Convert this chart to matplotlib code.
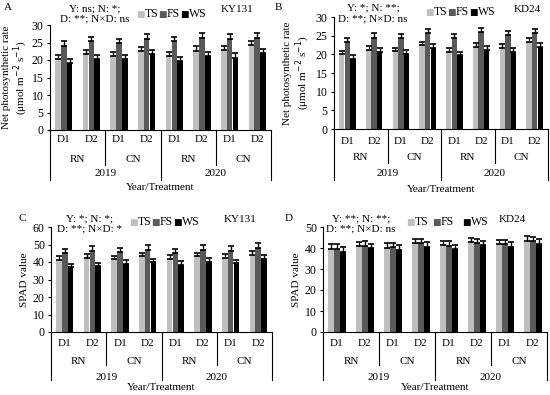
import matplotlib
matplotlib.use("Agg")
import matplotlib.pyplot as plt
import numpy as np
from matplotlib.transforms import blended_transform_factory

plt.rcParams["font.family"] = ["Liberation Serif", "DejaVu Serif"]
plt.rcParams["font.size"] = 8

# ── data ─────────────────────────────────────────────────────────────────────
d_labels = ["D1", "D2"] * 4
n_labels = ["RN", "CN", "RN", "CN"]
years = ["2019", "2020"]
series = ["TS", "FS", "WS"]
colors = ["#bfbfbf", "#595959", "#000000"]

pn_ky131 = {
    "TS": [20.2, 21.8, 21.2, 22.6, 21.2, 22.7, 22.9, 24.3],
    "FS": [24.1, 25.3, 24.8, 26.0, 25.3, 26.4, 26.1, 26.3],
    "WS": [19.2, 20.3, 20.2, 21.6, 19.8, 21.1, 20.7, 21.9],
}
pn_ky131_err = [1.2, 1.3, 1.2]

pn_kd24 = {
    "TS": [20.0, 21.1, 20.8, 22.4, 20.7, 22.0, 21.7, 23.4],
    "FS": [23.2, 24.5, 24.4, 25.7, 24.4, 26.0, 25.1, 25.7],
    "WS": [18.7, 20.7, 20.2, 21.8, 19.7, 21.1, 20.7, 22.0],
}
pn_kd24_err = [1.0, 1.1, 1.0]

spad_ky131 = {
    "TS": [41.0, 42.3, 41.5, 43.2, 41.7, 43.2, 42.3, 44.2],
    "FS": [45.1, 46.3, 45.5, 47.0, 45.1, 47.0, 46.3, 48.0],
    "WS": [37.0, 37.7, 38.9, 40.0, 38.5, 40.2, 39.2, 41.9],
}
spad_ky131_err = [2.2, 2.6, 2.0]

spad_kd24 = {
    "TS": [39.7, 41.0, 40.2, 42.2, 41.3, 42.9, 41.9, 43.5],
    "FS": [39.7, 41.1, 40.6, 42.2, 41.1, 42.5, 41.9, 43.2],
    "WS": [38.1, 39.8, 39.2, 40.5, 39.4, 41.3, 40.5, 41.9],
}
spad_kd24_err = [2.0, 2.0, 2.2]

FIG_W, FIG_H = 550, 395


def px_box(left, right, top, bottom):
    return [left / FIG_W, 1 - bottom / FIG_H, (right - left) / FIG_W, (bottom - top) / FIG_H]


def fig_xy(x, y):
    return x / FIG_W, 1 - y / FIG_H


# ── one panel ────────────────────────────────────────────────────────────────

def draw_panel(fig, box, data, errs, ymax, ystep, ylabel, offs, labelpad=3):
    ax = fig.add_axes(px_box(*box))
    x = np.arange(8)
    width, gap = 0.2, 0.21
    for i, s in enumerate(series):
        vals = np.array(data[s])
        err = np.full(8, errs[i])
        ax.bar(x + (i - 1) * gap, vals, width, color=colors[i], zorder=2)
        ax.errorbar(x + (i - 1) * gap, vals, yerr=[np.zeros(8), err], fmt="none",
                    ecolor="black", elinewidth=1.0, capsize=2.3, capthick=1.2, zorder=3)
    ax.set_xlim(-0.5, 7.5)
    ax.set_ylim(0, ymax)
    ax.set_yticks(np.arange(0, ymax + 0.1, ystep))
    ax.set_xticks([])
    for side in ["top", "right"]:
        ax.spines[side].set_visible(False)
    ax.spines["left"].set_linewidth(0.8)
    ax.spines["bottom"].set_linewidth(0.8)
    ax.tick_params(axis="y", length=2.5, width=0.8, pad=2, labelsize=8.5)
    ax.set_ylabel(ylabel, labelpad=labelpad, linespacing=1.1)

    # multi-level category axis
    h_px = box[3] - box[2]
    tr = blended_transform_factory(ax.transData, ax.transAxes)
    d_y, n_y, yr_y, n_line, yr_line, title_y = [-o / h_px for o in offs]
    for i, lab in enumerate(d_labels):
        ax.text(i, d_y, lab, transform=tr, ha="center", va="center")
    for i, lab in enumerate(n_labels):
        ax.text(2 * i + 0.5, n_y, lab, transform=tr, ha="center", va="center")
    for i, lab in enumerate(years):
        ax.text(4 * i + 1.5, yr_y, lab, transform=tr, ha="center", va="center")
    for xs in [-0.5, 3.5, 7.5]:
        ax.plot([xs, xs], [0, yr_line], transform=tr, color="black", lw=0.8, clip_on=False)
    for xs in [1.5, 5.5]:
        ax.plot([xs, xs], [0, n_line], transform=tr, color="black", lw=0.8, clip_on=False)
    ax.text(3.5, title_y, "Year/Treatment", transform=tr, ha="center", va="center")
    return ax


def draw_header(fig, letter, letter_xy, stats, stats_x, stats_y, legend_x, legend_y, cultivar, cult_xy):
    fig.text(*fig_xy(*letter_xy), letter, ha="center", va="center")
    fig.text(*fig_xy(stats_x, stats_y[0]), stats[0], ha="center", va="center")
    fig.text(*fig_xy(stats_x, stats_y[1]), stats[1], ha="center", va="center")
    for i, s in enumerate(series):
        lx = legend_x[i]
        fig.text(*fig_xy(lx, legend_y + 0.5), "\u25A0", color=colors[i], ha="center", va="center",
                 family="DejaVu Sans", fontsize=6.5)
        fig.text(*fig_xy(lx + 5, legend_y), s, ha="left", va="center", fontsize=8.5)
    fig.text(*fig_xy(*cult_xy), cultivar, ha="center", va="center")


fig = plt.figure(figsize=(FIG_W / 100, FIG_H / 100), dpi=100)

pn_label = "Net photosynthetic rate\n(\u03bcmol m$^{-2}$ s$^{-1}$)"

draw_panel(fig, (50, 271, 25, 130), pn_ky131, pn_ky131_err, 30, 5, pn_label,
           (10, 29, 44, 35, 50, 58), labelpad=1)
draw_header(fig, "A", (8, 8), ["Y: ns; N: *;", "D: **; N\u00d7D: ns"], 95, (9, 19),
            [140, 162, 184], 14, "KY131", (237, 10))

draw_panel(fig, (334, 548, 17, 129), pn_kd24, pn_kd24_err, 30, 5, pn_label,
           (13, 28, 45, 34, 51, 60))
draw_header(fig, "B", (278, 8), ["Y: *; N: **;", "D: **; N\u00d7D: ns"], 373, (8, 19),
            [429, 451, 473], 12, "KD24", (527, 10))

draw_panel(fig, (51, 272, 227, 332), spad_ky131, spad_ky131_err, 60, 10, "SPAD value",
           (12, 29, 45, 33, 48, 56))
draw_header(fig, "C", (22, 219), ["Y: *; N: *;", "D: **; N\u00d7D: *"], 90, (219, 229),
            [133, 155, 177], 222, "KY131", (240, 220))

draw_panel(fig, (323, 547, 227, 332), spad_kd24, spad_kd24_err, 50, 10, "SPAD value",
           (12, 29, 45, 33, 48, 56))
draw_header(fig, "D", (289, 219), ["Y: **; N: **;", "D: **; N\u00d7D: ns"], 361, (219, 229),
            [410, 436, 466], 222, "KD24", (512, 220))

fig.savefig("out.png", dpi=100)
